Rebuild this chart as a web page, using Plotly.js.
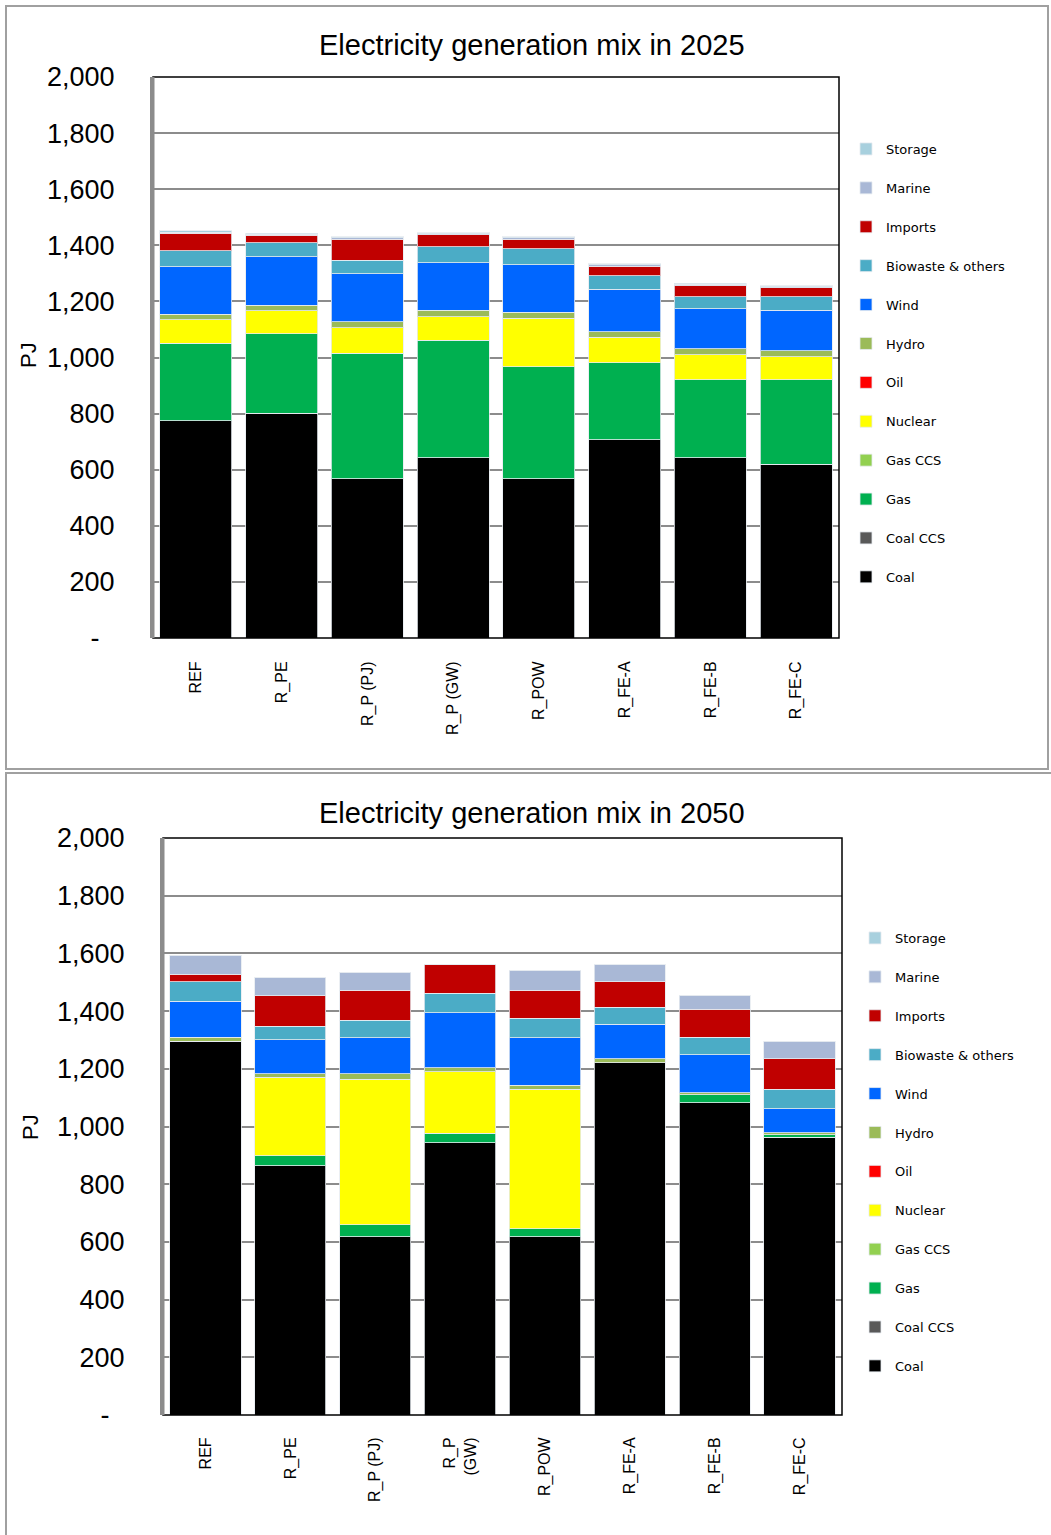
<!DOCTYPE html>
<html>
<head>
<meta charset="utf-8">
<script src="https://cdn.plot.ly/plotly-3.0.1.min.js"></script>
<style>html,body{margin:0;padding:0;background:#fff;}#chart{width:1051px;height:1535px;}</style>
</head>
<body>
<div id="chart"></div>
<script>
// ---- data ----
const categories = ['REF','R_PE','R_P (PJ)','R_P (GW)','R_POW','R_FE-A','R_FE-B','R_FE-C'];
const tickLabels2025 = ['REF','R_PE','R_P (PJ)','R_P (GW)','R_POW','R_FE-A','R_FE-B','R_FE-C'];
const tickLabels2050 = ['REF','R_PE','R_P (PJ)','R_P<br>(GW)','R_POW','R_FE-A','R_FE-B','R_FE-C'];
const seriesNames = ['Coal','Coal CCS','Gas','Gas CCS','Nuclear','Oil','Hydro','Wind','Biowaste & others','Imports','Marine','Storage'];
const seriesColors = ['#000000','#595959','#00B050','#92D050','#FFFF00','#FF0000','#9BBB59','#0066FF','#4BACC6','#C00000','#A9B8D6','#A8D0DE'];

// 2025 (PJ)
const coal2025     = [774, 801, 567, 642, 567, 706, 642, 620];
const coalCCS2025  = [0, 0, 0, 0, 0, 0, 0, 0];
const gas2025      = [277, 284, 448, 420, 400, 275, 278, 300];
const gasCCS2025   = [0, 0, 0, 0, 0, 0, 0, 0];
const nuclear2025  = [83, 82, 91, 83, 173, 91, 90, 82];
const oil2025      = [0, 0, 0, 0, 0, 0, 0, 0];
const hydro2025    = [20, 20, 21, 23, 21, 19, 21, 22];
const wind2025     = [170, 173, 172, 170, 170, 152, 143, 144];
const biowaste2025 = [57, 49, 48, 57, 57, 49, 43, 49];
const imports2025  = [62, 27, 75, 42, 34, 34, 39, 32];
const marine2025   = [4, 4, 5, 4, 5, 5, 5, 4];
const storage2025  = [4, 3, 3, 3, 4, 4, 3, 3];

// 2050 (PJ)
const coal2050     = [1295, 864, 618, 944, 618, 1221, 1083, 963];
const coalCCS2050  = [0, 0, 0, 0, 0, 0, 0, 0];
const gas2050      = [0, 34, 42, 33, 27, 0, 27, 8];
const gasCCS2050   = [0, 0, 0, 0, 0, 0, 0, 0];
const nuclear2050  = [0, 272, 504, 213, 485, 0, 0, 0];
const oil2050      = [0, 0, 0, 0, 0, 0, 0, 0];
const hydro2050    = [14, 13, 19, 13, 13, 13, 7, 7];
const wind2050     = [126, 118, 125, 191, 165, 121, 132, 84];
const biowaste2050 = [67, 47, 61, 68, 67, 59, 60, 68];
const imports2050  = [25, 105, 104, 99, 98, 87, 98, 105];
const marine2050   = [67, 62, 61, 0, 68, 60, 48, 60];
const storage2050  = [0, 0, 0, 0, 0, 0, 0, 0];

const yTickVals = [0,200,400,600,800,1000,1200,1400,1600,1800,2000];
const yTickText = ['-\u00A0\u00A0','200','400','600','800','1,000','1,200','1,400','1,600','1,800','2,000'];

const values2025 = [coal2025,coalCCS2025,gas2025,gasCCS2025,nuclear2025,oil2025,hydro2025,wind2025,biowaste2025,imports2025,marine2025,storage2025];
const values2050 = [coal2050,coalCCS2050,gas2050,gasCCS2050,nuclear2050,oil2050,hydro2050,wind2050,biowaste2050,imports2050,marine2050,storage2050];

// ---- geometry helpers (pixels -> paper) ----
const W = 1051, H = 1535;
const px = v => v / W;
const py = v => (H - v) / H;

const traces = [];
seriesNames.forEach((name, i) => {
  traces.push({
    type: 'bar', name: name, x: categories, y: values2025[i],
    xaxis: 'x', yaxis: 'y', legend: 'legend', legendgroup: 'a' + i, legendrank: 100 - i,
    marker: {color: seriesColors[i], line: {color: 'rgba(230,235,240,0.8)', width: 1}},
    hovertemplate: name + ': %{y}<extra></extra>'
  });
});
seriesNames.forEach((name, i) => {
  traces.push({
    type: 'bar', name: name, x: categories, y: values2050[i],
    xaxis: 'x2', yaxis: 'y2', legend: 'legend2', legendgroup: 'b' + i, legendrank: 100 - i,
    marker: {color: seriesColors[i], line: {color: 'rgba(230,235,240,0.8)', width: 1}},
    hovertemplate: name + ': %{y}<extra></extra>'
  });
});

const tickFont = {family: 'Liberation Sans, Arial, sans-serif', size: 27, color: '#000'};
const catFont = {family: 'Liberation Sans, Arial, sans-serif', size: 16, color: '#000'};
const legFont = {family: 'DejaVu Sans, sans-serif', size: 13, color: '#000'};

const yaxisCommon = {
  range: [0, 2000], tickvals: yTickVals, ticktext: yTickText, tickfont: tickFont,
  showgrid: true, gridcolor: '#8c8c8c', gridwidth: 2, zeroline: false,
  showline: true, linecolor: '#8c8c8c', linewidth: 3,
  ticks: 'outside', ticklen: 30, tickcolor: 'rgba(0,0,0,0)', fixedrange: true
};
const xaxisCommon = {
  type: 'category', tickangle: -90, tickfont: catFont, showline: false, showgrid: false,
  ticks: 'outside', tickcolor: 'rgba(0,0,0,0)', fixedrange: true
};

const layout = {
  width: W, height: H,
  margin: {l: 0, r: 0, t: 0, b: 0},
  paper_bgcolor: '#fff', plot_bgcolor: '#fff',
  barmode: 'stack', bargap: 0.16,
  showlegend: true,
  xaxis: Object.assign({}, xaxisCommon, {domain: [px(153), px(839)], anchor: 'y',
    tickvals: categories, ticktext: tickLabels2025, ticklen: 16}),
  yaxis: Object.assign({}, yaxisCommon, {domain: [py(638), py(77)], anchor: 'x'}),
  xaxis2: Object.assign({}, xaxisCommon, {domain: [px(163), px(842)], anchor: 'y2',
    tickvals: categories, ticktext: tickLabels2050, ticklen: 15}),
  yaxis2: Object.assign({}, yaxisCommon, {domain: [py(1415), py(838)], anchor: 'x2'}),
  legend: {x: px(846), xanchor: 'left', y: py(134), yanchor: 'top', font: legFont,
    traceorder: 'grouped', tracegroupgap: 19, bgcolor: 'rgba(0,0,0,0)', itemwidth: 30},
  legend2: {x: px(855), xanchor: 'left', y: py(923), yanchor: 'top', font: legFont,
    traceorder: 'grouped', tracegroupgap: 19, bgcolor: 'rgba(0,0,0,0)', itemwidth: 30},
  annotations: [
    {text: 'Electricity generation mix in 2025', xref: 'paper', yref: 'paper', x: px(532), y: py(45),
     xanchor: 'center', yanchor: 'middle', showarrow: false,
     font: {family: 'Liberation Sans, Arial, sans-serif', size: 29, color: '#000'}},
    {text: 'Electricity generation mix in 2050', xref: 'paper', yref: 'paper', x: px(532), y: py(813),
     xanchor: 'center', yanchor: 'middle', showarrow: false,
     font: {family: 'Liberation Sans, Arial, sans-serif', size: 29, color: '#000'}},
    {text: 'PJ', xref: 'paper', yref: 'paper', x: px(28), y: py(355), textangle: -90,
     xanchor: 'center', yanchor: 'middle', showarrow: false,
     font: {family: 'Liberation Sans, Arial, sans-serif', size: 22, color: '#000'}},
    {text: 'PJ', xref: 'paper', yref: 'paper', x: px(30), y: py(1127), textangle: -90,
     xanchor: 'center', yanchor: 'middle', showarrow: false,
     font: {family: 'Liberation Sans, Arial, sans-serif', size: 22, color: '#000'}}
  ],
  shapes: [
    // panel frames
    {type: 'rect', xref: 'paper', yref: 'paper', x0: px(6), x1: px(1048), y0: py(769), y1: py(6),
     line: {color: '#a0a0a0', width: 2}, layer: 'below'},
    {type: 'rect', xref: 'paper', yref: 'paper', x0: px(6), x1: px(1070), y0: py(1560), y1: py(773),
     line: {color: '#a0a0a0', width: 2}, layer: 'below'},
    // plot area boxes
    {type: 'rect', xref: 'x domain', yref: 'y domain', x0: 0, x1: 1, y0: 0, y1: 1,
     line: {color: '#000', width: 1.5}, layer: 'above'},
    {type: 'rect', xref: 'x2 domain', yref: 'y2 domain', x0: 0, x1: 1, y0: 0, y1: 1,
     line: {color: '#000', width: 1.5}, layer: 'above'},
    {type: 'line', xref: 'x domain', yref: 'y domain', x0: 0, x1: 0, y0: 0, y1: 1,
     line: {color: '#8c8c8c', width: 3}, layer: 'above'},
    {type: 'line', xref: 'x2 domain', yref: 'y2 domain', x0: 0, x1: 0, y0: 0, y1: 1,
     line: {color: '#8c8c8c', width: 3}, layer: 'above'}
  ]
};

Plotly.newPlot('chart', traces, layout, {displayModeBar: false, responsive: false});
</script>
</body>
</html>
